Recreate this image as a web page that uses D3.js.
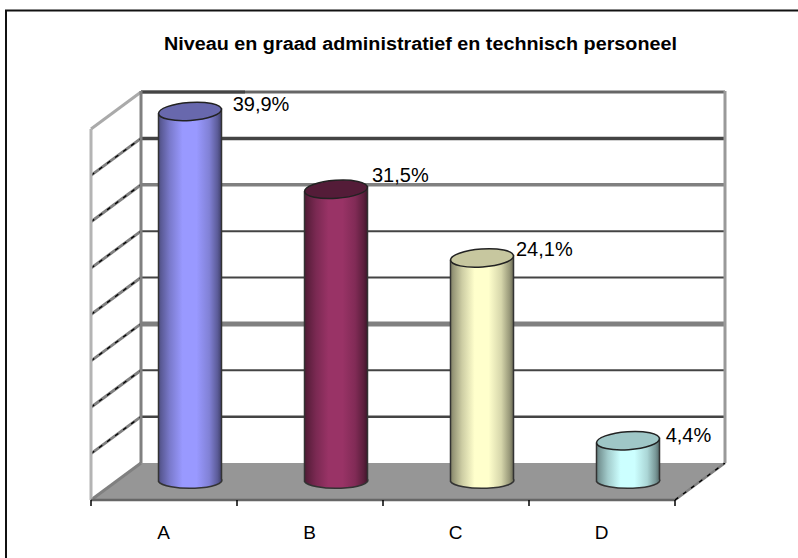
<!DOCTYPE html>
<html><head><meta charset="utf-8">
<script src="https://cdn.jsdelivr.net/npm/d3@7"></script>
<style>html,body{margin:0;padding:0;background:#fff}svg{display:block}text{font-family:"Liberation Sans",Arial,sans-serif;fill:#000}</style>
</head><body><div id="chart"></div>
<script>
const titleText = "Niveau en graad administratief en technisch personeel";
const categories = ["A", "B", "C", "D"];
const values = [39.9, 31.5, 24.1, 4.4];
const valueLabels = ["39,9%", "31,5%", "24,1%", "4,4%"];
const gridTicks = [0, 5, 10, 15, 20, 25, 30, 35, 40];
const barColors = ["#9999FF", "#993366", "#FFFFCC", "#CCFFFF"];

const W = 798, H = 558;
const svg = d3.select("#chart").append("svg").attr("width", W).attr("height", H);
const defs = svg.append("defs");

// plot geometry
const depthX = 50, depthY = 37;
const x = d3.scaleBand().domain(categories).range([91, 675]);
const y = d3.scaleLinear().domain([0, 40]).range([463, 92]);
const backLeft = x.range()[0] + depthX, backRight = x.range()[1] + depthX;
const front = y(0) + depthY;

// outer frame (only top and left are visible, runs off the page)
svg.append("path").attr("d", `M6,${H}V10.5H${W}`).attr("fill", "none").attr("stroke", "#111").attr("stroke-width", 2);

// title
svg.append("text").attr("x", 420.5).attr("y", 50).attr("text-anchor", "middle")
  .attr("font-size", 18).attr("font-weight", "bold").attr("textLength", 513).attr("lengthAdjust", "spacingAndGlyphs").text(titleText);

// floor
svg.append("path").attr("fill", "#969696")
  .attr("d", d3.line()([[x.range()[0], front], [backLeft, y(0)], [backRight, y(0)], [x.range()[1], front]]) + "Z");

// grid lines on the back wall
const gridStyle = [
  {w: 0, c: "#444"}, {w: 2.5, c: "#444"}, {w: 2.2, c: "#444"}, {w: 5, c: "#808080"},
  {w: 2, c: "#444"}, {w: 2, c: "#444"}, {w: 3.5, c: "#808080"}, {w: 3.5, c: "#444"}, {w: 3, c: "#666"}
];
svg.append("g").selectAll("line").data(gridTicks.filter(d => d > 0)).join("line")
  .attr("x1", backLeft).attr("x2", backRight)
  .attr("y1", d => y(d)).attr("y2", d => y(d))
  .attr("stroke", d => gridStyle[gridTicks.indexOf(d)].c)
  .attr("stroke-width", d => gridStyle[gridTicks.indexOf(d)].w);
svg.append("line").attr("x1", backLeft).attr("x2", 245).attr("y1", y(40)).attr("y2", y(40)).attr("stroke", "#444").attr("stroke-width", 3);

// side wall diagonals
const diag = svg.append("g");
gridTicks.forEach(t => {
  const p = [[x.range()[0], y(t) + depthY], [backLeft, y(t)]];
  diag.append("path").attr("d", d3.line()(p)).attr("stroke", t === 40 ? "#aaa" : "#808080").attr("stroke-width", 3).attr("fill", "none");
  if (t > 0 && t < 40) diag.append("path").attr("d", d3.line()(p)).attr("stroke", "#000").attr("stroke-width", 1.3)
    .attr("stroke-dasharray", "4 6").attr("fill", "none");
});
// right floor edge
const re = [[x.range()[1], front], [backRight, y(0)]];
svg.append("path").attr("d", d3.line()(re)).attr("stroke", "#808080").attr("stroke-width", 2.5);
svg.append("path").attr("d", d3.line()(re)).attr("stroke", "#000").attr("stroke-width", 1.3).attr("stroke-dasharray", "4 6");

// walls vertical edges
svg.append("line").attr("x1", backLeft).attr("x2", backLeft).attr("y1", y(40) - 1).attr("y2", y(0)).attr("stroke", "#808080").attr("stroke-width", 3);
svg.append("line").attr("x1", backRight).attr("x2", backRight).attr("y1", y(40) - 1).attr("y2", y(0)).attr("stroke", "#999").attr("stroke-width", 3);
svg.append("line").attr("x1", x.range()[0]).attr("x2", x.range()[0]).attr("y1", y(40) + depthY).attr("y2", front).attr("stroke", "#b4b4b4").attr("stroke-width", 3);

// category axis
svg.append("line").attr("x1", x.range()[0]).attr("x2", x.range()[1]).attr("y1", front).attr("y2", front).attr("stroke", "#666").attr("stroke-width", 2.5);
const tickXs = categories.map(c => x(c)).concat(x.range()[1]);
svg.append("g").selectAll("line").data(tickXs).join("line")
  .attr("x1", d => d).attr("x2", d => d).attr("y1", front).attr("y2", front + 6).attr("stroke", "#000").attr("stroke-width", 1.5);
svg.append("g").selectAll("text").data(categories).join("text")
  .attr("x", d => x(d) + x.bandwidth() / 2 - 0.5).attr("y", 539).attr("text-anchor", "middle").attr("font-size", 19).text(d => d);

// cylinders
const rx = 31.5, ryTop = 9, ryBase = 8;
barColors.forEach((c, i) => {
  const g = defs.append("linearGradient").attr("id", "g" + i);
  const col = d3.rgb(c);
  [[0, .5], [.05, .6], [.18, .8], [.38, 1], [.6, 1], [.8, .84], [.93, .6], [1, .4]].forEach(([o, k]) => {
    g.append("stop").attr("offset", o).attr("stop-color", d3.rgb(col.r * k, col.g * k, col.b * k).formatHex());
  });
});
const bars = svg.append("g").selectAll("g").data(categories).join("g");
bars.each(function (cat, i) {
  const sel = d3.select(this);
  const cx = x(cat) + x.bandwidth() / 2 + depthX / 2 + 1;
  const top = y(values[i]) + depthY / 2;
  const bottom = y(0) + depthY / 2;
  const tilt = 2.5; // slight rise to the right
  const body = `M${cx - rx},${top + tilt}L${cx - rx},${bottom}A${rx},${ryBase} 0 0 0 ${cx + rx},${bottom - tilt}L${cx + rx},${top - tilt}Z`;
  sel.append("path").attr("d", body).attr("fill", `url(#g${i})`).attr("stroke", "#333").attr("stroke-width", 1.5);
  const col = d3.rgb(barColors[i]);
  const k = i === 1 ? .55 : (i === 0 ? .68 : .78);
  sel.append("ellipse").attr("cx", cx).attr("cy", top).attr("rx", rx).attr("ry", ryTop)
    .attr("transform", `rotate(-4 ${cx} ${top})`)
    .attr("fill", d3.rgb(col.r * k, col.g * k, col.b * k).formatHex()).attr("stroke", "#222").attr("stroke-width", 1.5);
});

// value labels
const labelDx = [43.7, 37, 35, 38.7], labelDy = [-0.7, -7.7, -2.3, 1];
svg.append("g").selectAll("text").data(categories).join("text")
  .attr("x", (d, i) => x(d) + x.bandwidth() / 2 + depthX / 2 + labelDx[i])
  .attr("y", (d, i) => y(values[i]) + depthY / 2 + labelDy[i])
  .attr("font-size", 20).text((d, i) => valueLabels[i]);
</script></body></html>
